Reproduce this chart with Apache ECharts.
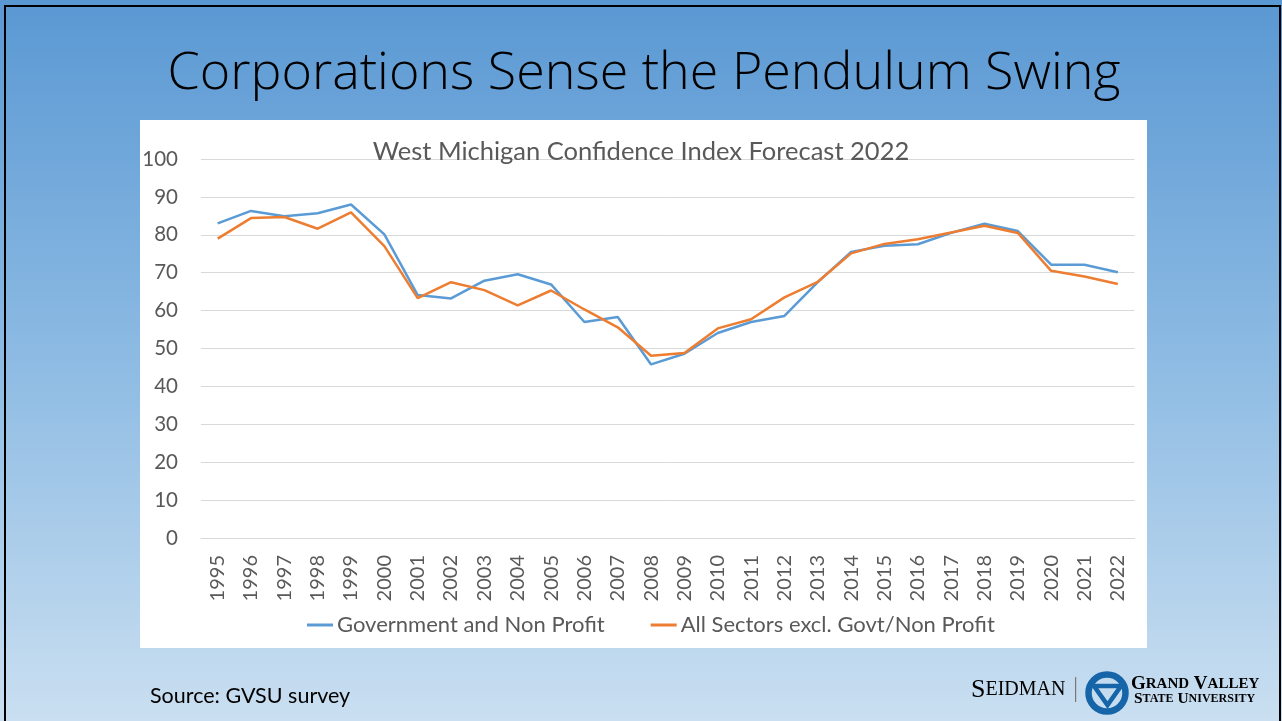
<!DOCTYPE html>
<html>
<head>
<meta charset="utf-8">
<script src="https://cdn.jsdelivr.net/npm/echarts@6/dist/echarts.min.js"></script>
<style>
html,body{margin:0;padding:0;background:#fff;}
#main{width:1282px;height:721px;}
</style>
</head>
<body>
<div id="main"></div>
<script>
const slideTitle = 'Corporations Sense the Pendulum Swing';
const chartTitle = 'West Michigan Confidence Index Forecast 2022';
const sourceText = 'Source: GVSU survey';
const seriesNames = ['Government and Non Profit', 'All Sectors excl. Govt/Non Profit'];
const years = ['1995','1996','1997','1998','1999','2000','2001','2002','2003','2004','2005','2006','2007','2008','2009','2010','2011','2012','2013','2014','2015','2016','2017','2018','2019','2020','2021','2022'];
const govt = [83.0,86.3,84.9,85.7,88.0,80.1,64.1,63.2,67.9,69.6,66.9,57.0,58.3,45.8,48.6,54.1,57.0,58.6,67.5,75.5,77.1,77.5,80.5,82.9,81.0,72.1,72.1,70.1];
const allSectors = [79.0,84.4,84.7,81.6,85.9,77.0,63.3,67.5,65.4,61.4,65.3,60.3,55.6,48.1,48.8,55.3,57.7,63.5,67.6,75.1,77.6,78.8,80.6,82.4,80.5,70.5,69.0,67.0];

const chart = echarts.init(document.getElementById('main'), null, {renderer: 'canvas'});
const labelFont = 'Lato, "Open Sans", sans-serif';
const serif = '"Liberation Serif", "DejaVu Serif", serif';
chart.setOption({
  animation: false,
  backgroundColor: {
    type: 'linear', x: 0, y: 0, x2: 0, y2: 1,
    colorStops: [
      {offset: 0, color: '#5a98d3'},
      {offset: 0.5, color: '#8dbbe3'},
      {offset: 1, color: '#cadff1'}
    ]
  },
  title: {
    text: chartTitle,
    left: 'center',
    top: 134,
    textStyle: {fontFamily: labelFont, fontSize: 25.5, fontWeight: 'normal', color: '#595959'}
  },
  legend: {
    left: 302,
    top: 609,
    itemGap: 46,
    itemWidth: 26,
    itemHeight: 3,
    icon: 'rect',
    textStyle: {fontFamily: labelFont, fontSize: 22, color: '#595959', padding: [0,0,0,-1]},
    data: seriesNames
  },
  grid: {left: 201, right: 147.5, top: 159, bottom: 183, containLabel: false},
  xAxis: {
    type: 'category',
    data: years,
    boundaryGap: true,
    axisLine: {show: true, lineStyle: {color: '#d9d9d9', width: 1}},
    axisTick: {show: false},
    axisLabel: {rotate: 90, margin: 17, fontFamily: labelFont, fontSize: 20, color: '#595959', interval: 0}
  },
  yAxis: {
    type: 'value',
    min: 0, max: 100, interval: 10,
    axisLine: {show: false},
    axisTick: {show: false},
    axisLabel: {margin: 23, fontFamily: labelFont, fontSize: 20.5, color: '#595959'},
    splitLine: {lineStyle: {color: '#d9d9d9', width: 1}}
  },
  series: [
    {name: seriesNames[0], type: 'line', data: govt, symbol: 'none', lineStyle: {color: '#5b9bd5', width: 2.5}, itemStyle: {color: '#5b9bd5'}, z: 2},
    {name: seriesNames[1], type: 'line', data: allSectors, symbol: 'none', lineStyle: {color: '#ed7d31', width: 2.5}, itemStyle: {color: '#ed7d31'}, z: 3}
  ],
  graphic: [
    {type: 'rect', z: -10, shape: {x: 140, y: 120, width: 1007, height: 528}, style: {fill: '#ffffff'}},
    {type: 'rect', z: 100, shape: {x: 5, y: 6, width: 1275, height: 740}, style: {fill: null, stroke: '#000', lineWidth: 2}},
    {type: 'text', z: 10, x: 644, y: 74, style: {text: slideTitle, font: '300 52px "Open Sans", Lato, sans-serif', fill: '#000', textAlign: 'center', textVerticalAlign: 'middle'}},
    {type: 'text', z: 10, x: 150, y: 696, style: {text: sourceText, font: '21.5px Lato, "Open Sans", sans-serif', fill: '#000', textAlign: 'left', textVerticalAlign: 'middle'}},
    {type: 'text', z: 10, x: 971, y: 690, style: {
      text: '{b|S}{s|EIDMAN}',
      textVerticalAlign: 'middle', textAlign: 'left',
      rich: {
        b: {fontSize: 26, fontFamily: serif, color: '#333333'},
        s: {fontSize: 20, fontFamily: serif, color: '#333333'}
      }
    }},
    {type: 'rect', z: 10, shape: {x: 1075, y: 677, width: 1.2, height: 25}, style: {fill: '#777777'}},
    {type: 'circle', z: 10, shape: {cx: 1107, cy: 693, r: 18.5}, style: {fill: null, stroke: '#1565a8', lineWidth: 6.5}},
    {type: 'polygon', z: 10, shape: {points: [[1094, 686], [1121, 686], [1107.5, 705]]}, style: {fill: null, stroke: '#1565a8', lineWidth: 4.5, lineJoin: 'miter'}},
    {type: 'text', z: 10, x: 1131, y: 684, style: {
      text: '{b|G}{s|RAND}{b| V}{s|ALLEY}',
      textVerticalAlign: 'middle', textAlign: 'left',
      rich: {
        b: {fontSize: 19, fontFamily: serif, color: '#1d3557', fontWeight: 'bold'},
        s: {fontSize: 15, fontFamily: serif, color: '#1d3557', fontWeight: 'bold'}
      }
    }},
    {type: 'text', z: 10, x: 1134, y: 699, style: {
      text: '{b|S}{s|TATE}{b| U}{s|NIVERSITY}',
      textVerticalAlign: 'middle', textAlign: 'left',
      rich: {
        b: {fontSize: 15.5, fontFamily: serif, color: '#1d3557', fontWeight: 'bold'},
        s: {fontSize: 12, fontFamily: serif, color: '#1d3557', fontWeight: 'bold'}
      }
    }}
  ]
});
</script>
</body>
</html>
